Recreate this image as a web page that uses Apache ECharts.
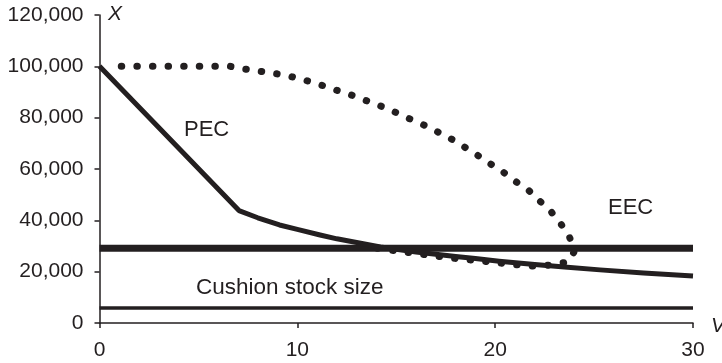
<!DOCTYPE html>
<html>
<head>
<meta charset="utf-8">
<script src="https://cdn.jsdelivr.net/npm/echarts@6/dist/echarts.min.js"></script>
<style>
html,body{margin:0;padding:0;background:#fff;}
#chart{width:722px;height:363px;}
</style>
</head>
<body>
<div id="chart"></div>
<script>
// ---- data ----
const xTicks = [0, 10, 20, 30];
const yTicks = [0, 20000, 40000, 60000, 80000, 100000, 120000];

// PEC (solid)
const pecX = [0, 7.05, 8, 9.1, 10, 11.15, 12, 13.2, 14.2, 15, 16, 17, 18, 19, 20.2, 22, 23.5, 25.3, 27.5, 30];
const pecY = [100000, 43800, 41000, 38200, 36500, 34300, 32800, 31100, 29600, 28700, 27700, 26800, 25900, 25100, 24100, 22800, 21800, 20700, 19500, 18300];

// EEC (dotted)
const eecX = [1.1, 6.6, 7.37, 8.17, 8.95, 9.69, 10.48, 11.2, 11.98, 12.7, 13.46, 14.19, 14.9, 15.6, 16.35, 17.06, 17.74, 18.42, 19.08, 19.74, 20.39, 21.02, 21.64, 22.23, 22.79, 23.28, 23.75, 24.02, 23.68, 22.89, 22.13, 21.37, 20.56, 19.75, 18.99, 18.18, 17.37, 16.61, 15.85, 14.9, 13.8];
const eecY = [100000, 100000, 98900, 98000, 97100, 96000, 94400, 92700, 90700, 88900, 86700, 84600, 82300, 79800, 77300, 74600, 71900, 68700, 65500, 62100, 58900, 55200, 52100, 47700, 43700, 39100, 33600, 28100, 23800, 22700, 22100, 22500, 23100, 23800, 24400, 25000, 25700, 26500, 27200, 28200, 29400];

// Horizontal levels
const upperLevel = 29100;
const cushionLevel = 5800;
const levelX = [0, 30];

// Labels
const labelPEC = 'PEC';
const labelEEC = 'EEC';
const labelCushion = 'Cushion stock size';
const yName = 'X';
const xName = 'V';

const ink = '#231f20';
const zip = (xs, ys) => xs.map((x, i) => [x, ys[i]]);
const fam = '"Liberation Sans", Arial, sans-serif';

const chart = echarts.init(document.getElementById('chart'));
chart.setOption({
  animation: false,
  backgroundColor: '#fff',
  grid: { left: 99.5, right: 29, top: 15, bottom: 40, containLabel: false },
  xAxis: {
    type: 'value', min: xTicks[0], max: xTicks[xTicks.length - 1], interval: 10,
    axisLine: { show: true, onZero: false, lineStyle: { color: ink, width: 1.5 } },
    axisTick: { show: true, length: 5, lineStyle: { color: ink, width: 1.5 } },
    splitLine: { show: false },
    axisLabel: { color: ink, fontSize: 21, fontFamily: fam, margin: 17 }
  },
  yAxis: {
    type: 'value', min: yTicks[0], max: yTicks[yTicks.length - 1], interval: 20000,
    axisLine: { show: true, onZero: false, lineStyle: { color: ink, width: 1.5 } },
    axisTick: { show: true, length: 5, lineStyle: { color: ink, width: 1.5 } },
    splitLine: { show: false },
    axisLabel: {
      color: ink, fontSize: 21, fontFamily: fam, margin: 16,
      formatter: v => v.toLocaleString('en-US')
    }
  },
  series: [
    {
      name: 'cushion', type: 'line', symbol: 'none', silent: true,
      data: levelX.map(x => [x, cushionLevel]),
      lineStyle: { color: ink, width: 3.5 }
    },
    {
      name: 'upper', type: 'line', symbol: 'none', silent: true,
      data: levelX.map(x => [x, upperLevel]),
      lineStyle: { color: ink, width: 7 }
    },
    {
      name: 'EEC', type: 'line', symbol: 'none', silent: true,
      data: zip(eecX, eecY),
      lineStyle: { color: ink, width: 7, type: [0.5, 15.1], cap: 'round', join: 'round' }
    },
    {
      name: 'PEC', type: 'line', symbol: 'none', silent: true,
      data: zip(pecX, pecY),
      lineStyle: { color: ink, width: 5, join: 'round' }
    }
  ],
  graphic: [
    { type: 'text', left: 184, top: 119, style: { text: labelPEC, fill: ink, font: '22px ' + fam } },
    { type: 'text', left: 608, top: 197, style: { text: labelEEC, fill: ink, font: '22px ' + fam } },
    { type: 'text', left: 196, top: 276, style: { text: labelCushion, fill: ink, font: '22.5px ' + fam } },
    { type: 'text', left: 108, top: 4, style: { text: yName, fill: ink, font: 'italic 21px ' + fam } },
    { type: 'text', left: 711, top: 316, style: { text: xName, fill: ink, font: 'italic 21px ' + fam } }
  ]
});
</script>
</body>
</html>
